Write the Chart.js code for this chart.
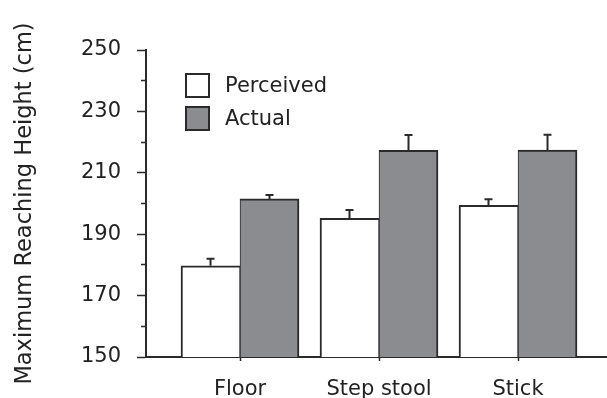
<!DOCTYPE html>
<html>
<head>
<meta charset="utf-8">
<script src="https://cdn.jsdelivr.net/npm/chart.js@4.4.1/dist/chart.umd.min.js"></script>
<style>
  html, body { margin: 0; padding: 0; background: #fff; }
  #wrap { position: relative; width: 607px; height: 398px; }
  #legend { position: absolute; left: 185px; top: 73px; font-family: 'DejaVu Sans', Verdana, sans-serif; font-size: 21px; color: #222; }
  .item { display: flex; align-items: center; height: 24px; margin-bottom: 9px; }
  .box { width: 21px; height: 21px; border: 2px solid #2a2a2a; margin-right: 15px; }
</style>
</head>
<body>
<div id="wrap">
  <canvas id="myChart" width="607" height="398"></canvas>
  <div id="legend"></div>
</div>
<script>
const categories = ['Floor', 'Step stool', 'Stick']
const seriesNames = ['Perceived', 'Actual']
const perceived = [179.7, 195.2, 199.4]
const perceivedErr = [2.3, 2.7, 2.0]
const actual = [201.5, 217.3, 217.4]
const actualErr = [1.3, 5.0, 5.0]
const yTicks = [150, 170, 190, 210, 230, 250]

const fills = ['#ffffff', '#8b8c90']
const edge = '#2a2a2a'
const fontFam = "'DejaVu Sans', Verdana, sans-serif"

// error bars (upper half only, with a small cap)
const errorBars = {
  id: 'errorBars',
  afterDatasetsDraw(chart) {
    const ctx = chart.ctx
    const yScale = chart.scales.y
    chart.data.datasets.forEach(function(ds, d){
      const meta = chart.getDatasetMeta(d)
      meta.data.forEach(function(bar, i){
        const v = ds.data[i].y
        const top = yScale.getPixelForValue(v + ds.err[i])
        ctx.save()
        ctx.strokeStyle = edge
        ctx.lineWidth = 2
        ctx.beginPath()
        ctx.moveTo(bar.x, bar.y)
        ctx.lineTo(bar.x, top)
        ctx.moveTo(bar.x - 4, top)
        ctx.lineTo(bar.x + 4, top)
        ctx.stroke()
        ctx.restore()
      })
    })
  }
}

const data = {
  datasets: [{
    label: seriesNames[0],
    data: perceived.map(function(v, i){ return {x: i + 1, y: v} }),
    err: perceivedErr,
    backgroundColor: fills[0],
    borderColor: edge,
    borderWidth: {left: 2, top: 2, right: 1, bottom: 0},
    borderSkipped: false
  }, {
    label: seriesNames[1],
    data: actual.map(function(v, i){ return {x: i + 1, y: v} }),
    err: actualErr,
    backgroundColor: fills[1],
    borderColor: edge,
    borderWidth: {left: 1, top: 2, right: 2, bottom: 0},
    borderSkipped: false
  }]
}

const config = {
  type: 'bar',
  data: data,
  plugins: [errorBars],
  options: {
    responsive: false,
    animation: false,
    barThickness: 59,
    layout: { padding: { top: 50, right: 1, left: 0, bottom: 0 } },
    scales: {
      x: {
        type: 'linear',
        offset: false,
        min: 0.3237,
        max: 3.633,
        afterBuildTicks: function(scale){
          scale.ticks = categories.map(function(c, i){ return {value: i + 1} })
        },
        afterFit: function(scale){ scale.height = 41 },
        ticks: {
          callback: function(v){ return categories[v - 1] },
          color: '#222',
          font: { family: fontFam, size: 21 },
          padding: 16,
          maxRotation: 0
        },
        grid: { offset: false, drawOnChartArea: false, tickLength: 4, color: edge, tickWidth: 1.5 },
        border: { color: edge, width: 2 }
      },
      y: {
        min: 150,
        max: 250,
        afterBuildTicks: function(scale){
          const t = []
          for (let v = yTicks[0]; v <= yTicks[yTicks.length - 1]; v += 10) t.push({value: v})
          scale.ticks = t
        },
        afterFit: function(scale){ scale.width = 146 },
        ticks: {
          callback: function(v){ return yTicks.includes(v) ? v : '' },
          color: '#222',
          font: { family: fontFam, size: 21 },
          padding: 16
        },
        grid: {
          drawOnChartArea: false,
          tickLength: 9,
          color: edge,
          tickWidth: 1.5,
          tickBorderDash: function(c){ return yTicks.includes(c.tick.value) ? [] : [0, 4, 5, 50] }
        },
        border: { color: edge, width: 2 },
        title: {
          display: true,
          text: 'Maximum Reaching Height (cm)',
          color: '#222',
          font: { family: fontFam, size: 22.5 },
          padding: { top: 12, bottom: 0 }
        }
      }
    },
    plugins: {
      legend: { display: false },
      tooltip: { enabled: false }
    }
  }
}

const myChart = new Chart(document.getElementById('myChart'), config)

// html legend built from the dataset styles
const legend = document.getElementById('legend')
data.datasets.forEach(function(ds){
  const row = document.createElement('div')
  row.className = 'item'
  const box = document.createElement('div')
  box.className = 'box'
  box.style.background = ds.backgroundColor
  const txt = document.createElement('span')
  txt.textContent = ds.label
  row.appendChild(box)
  row.appendChild(txt)
  legend.appendChild(row)
})
</script>
</body>
</html>
